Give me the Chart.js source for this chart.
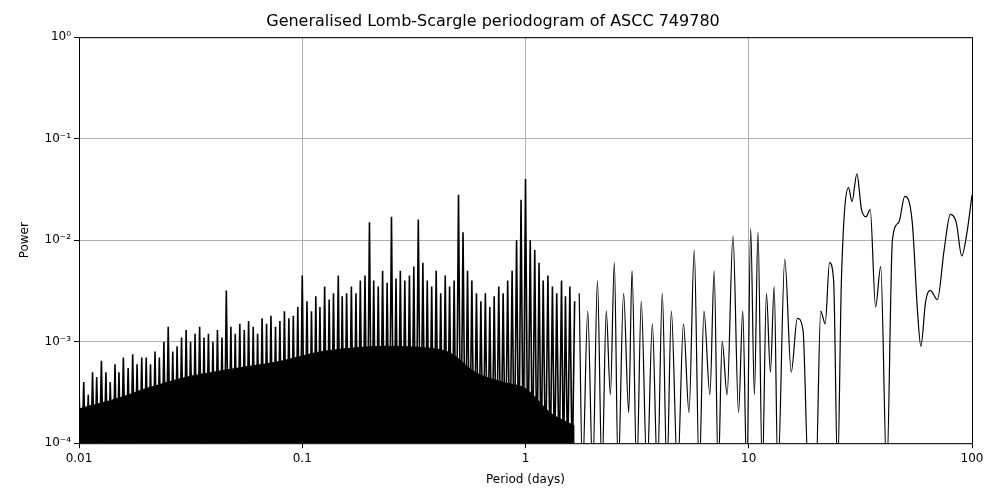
<!DOCTYPE html>
<html><head><meta charset="utf-8">
<script src="https://cdn.jsdelivr.net/npm/chart.js@4"></script>
<style>body{margin:0;background:#fff}#w{width:1000px;height:500px}</style>
</head><body><div id="w"><canvas id="c"></canvas></div>
<script>
const densePeriods=[0.0100,0.0105,0.0110,0.0115,0.0120,0.0126,0.0132,0.0138,0.0145,0.0151,0.0158,0.0166,0.0174,0.0182,
0.0191,0.0200,0.0209,0.0219,0.0229,0.0240,0.0251,0.0263,0.0275,0.0288,0.0302,0.0316,0.0331,0.0347,
0.0363,0.0380,0.0398,0.0417,0.0437,0.0457,0.0479,0.0501,0.0525,0.0550,0.0575,0.0603,0.0631,0.0661,
0.0692,0.0724,0.0759,0.0794,0.0832,0.0871,0.0912,0.0955,0.100,0.105,0.110,0.115,0.120,0.126,
0.132,0.138,0.145,0.151,0.158,0.166,0.174,0.182,0.191,0.200,0.209,0.219,0.229,0.240,
0.251,0.263,0.275,0.288,0.302,0.316,0.331,0.347,0.363,0.380,0.398,0.417,0.437,0.457,
0.479,0.501,0.525,0.550,0.575,0.603,0.631,0.661,0.692,0.724,0.759,0.794,0.832,0.871,
0.912,0.955,1.00,1.05,1.10,1.15,1.20,1.26,1.32,1.38,1.45,1.51,1.58,1.66];
// peak powers in units of 1e-4
const densePeaks=[3.5,4,3,5,4.5,6.5,5,4,6,5,7,5.5,7.5,6,
7,7,6,8,7,10,14,8,9,11,13,10,12,14,
11,12,10,13,11,32,14,12,15,13,16,14,12,17,
15,18,14,16,20,17,18,22,45,25,20,28,22,35,
26,30,45,28,30,35,30,40,45,150,40,35,50,38,
170,42,50,40,45,55,160,60,40,35,50,30,45,35,
40,280,120,50,40,30,25,30,22,28,35,30,40,50,
100,250,400,100,80,60,40,45,35,30,40,28,35,25];
const troughPower=5e-5;
// level below which the dense forest looks solid black
const massPeriods=[0.01,0.015,0.02,0.03,0.05,0.08,0.12,0.2,0.3,0.45,0.6,0.8,1.0,1.3,1.66];
const massPower=[2.2e-4,2.8e-4,3.5e-4,4.5e-4,5.5e-4,6.5e-4,8e-4,9e-4,9e-4,8e-4,5e-4,4e-4,3.5e-4,2e-4,1.5e-4];
const longPeriods=[1.74,1.8,1.9,2.0,2.1,2.2,2.3,2.4,2.5,2.6,2.75,2.9,3.0,3.15,3.3,3.5,3.7,3.9,4.1,4.3,4.5,4.8,5.1,5.4,5.7,6.0,6.3,6.7,7.0,7.3,7.6,8.0,8.5,9.0,9.4,9.8,10.2,10.6,11.0,11.5,12.0,12.5,13.0,13.5,14.5,15.5,16.5,17.5,18.5,20.0,21,22,23,24,25,26,28,29,30.5,32,33.5,35,37,39,41.5,44,47,50,54,57,59,62,65,70,75,80,85,90,95,100];
const longPower=[3e-3,5e-5,2e-3,5e-5,4e-3,5e-5,2e-3,3e-4,6e-3,5e-5,3e-3,2e-4,5e-3,5e-5,2.5e-3,5e-5,1.5e-3,5e-5,3e-3,5e-5,2e-3,5e-5,1.5e-3,2e-4,8e-3,5e-5,2e-3,3e-4,5e-3,5e-5,1e-3,3e-4,1.1e-2,2e-4,2e-3,5e-5,1.3e-2,3e-4,1.2e-2,5e-5,3e-3,5e-4,3.5e-3,5e-5,6.5e-3,5e-4,1.7e-3,1.3e-3,5e-5,5e-5,2e-3,1.5e-3,6e-3,4e-3,5e-5,4e-3,3.3e-2,2.4e-2,4.5e-2,2e-2,1.7e-2,2e-2,2.2e-3,5.5e-3,5e-5,1e-2,1.5e-2,2.7e-2,1.5e-2,2e-3,9e-4,2.5e-3,3.2e-3,2.6e-3,8e-3,1.8e-2,1.5e-2,7e-3,1.2e-2,2.8e-2];
const xTicks=[0.01,0.1,1,10,100], xLabels=['0.01','0.1','1','10','100'];
const yTicks=[1e-4,1e-3,1e-2,1e-1,1], yLabels=['10⁻⁴','10⁻³','10⁻²','10⁻¹','10⁰'];

const dense=[];
densePeriods.forEach((p,i)=>{dense.push({x:p,y:densePeaks[i]*1e-4});
 if(i<densePeriods.length-1) dense.push({x:Math.sqrt(p*densePeriods[i+1]),y:troughPower});});
const longData=longPeriods.map((p,i)=>({x:p,y:longPower[i]}));
const massData=massPeriods.map((p,i)=>({x:p,y:massPower[i]}));

const frame={id:'frame',afterDraw(c){const a=c.chartArea,x=c.ctx;x.save();x.strokeStyle='#000';x.lineWidth=1;x.strokeRect(a.left+.5,a.top+.5,a.right-a.left,a.bottom-a.top);x.restore();}};
Chart.defaults.font.family='DejaVu Sans';
new Chart(document.getElementById('c'),{type:'line',
data:{datasets:[
 {data:dense,borderColor:'#000',borderWidth:1.6,pointRadius:0,tension:0},
 {data:massData,borderColor:'#000',borderWidth:0,backgroundColor:'#000',fill:'start',pointRadius:0,tension:0.3},
 {data:longData,borderColor:'#000',borderWidth:1.2,pointRadius:0,cubicInterpolationMode:'monotone'}]},
options:{responsive:true,maintainAspectRatio:false,animation:false,
 layout:{padding:{left:14,right:28,top:0,bottom:9}},
 plugins:{legend:{display:false},tooltip:{enabled:false},
  title:{display:true,text:'Generalised Lomb-Scargle periodogram of ASCC 749780',color:'#000',font:{size:16,weight:'normal'},padding:{top:12,bottom:6}}},
 scales:{
  x:{type:'logarithmic',min:0.01,max:100,
   afterBuildTicks:s=>{s.ticks=xTicks.map(v=>({value:v}));},
   ticks:{color:'#000',font:{size:12},maxRotation:0,callback:(v)=>xLabels[xTicks.indexOf(v)]},
   grid:{color:'#b0b0b0',drawTicks:true,tickLength:5,tickColor:'#000'},border:{display:false},
   title:{display:true,text:'Period (days)',color:'#000',font:{size:12}}},
  y:{type:'logarithmic',min:1e-4,max:1,
   afterBuildTicks:s=>{s.ticks=yTicks.map(v=>({value:v}));},
   afterFit:s=>{s.width=65;},
   ticks:{color:'#000',font:{size:12},callback:(v)=>yLabels[yTicks.findIndex(t=>Math.abs(t-v)/t<1e-6)]},
   grid:{color:'#b0b0b0',tickLength:5,tickColor:'#000'},border:{display:false},
   title:{display:true,text:'Power',color:'#000',font:{size:12}}}}},
plugins:[frame]});
</script></body></html>
